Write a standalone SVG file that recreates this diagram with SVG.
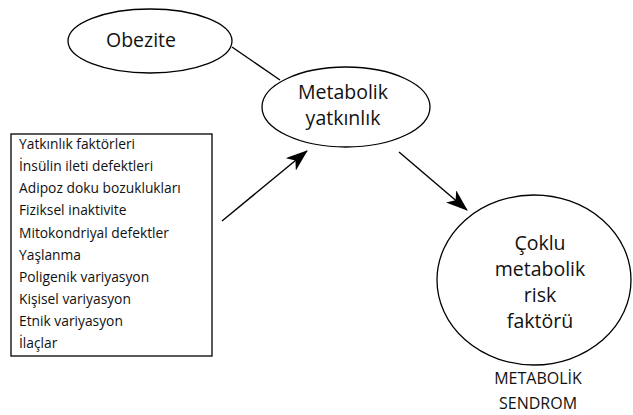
<svg xmlns="http://www.w3.org/2000/svg" width="633" height="415" viewBox="0 0 633 415">
  <style>
    .shape { fill: #fff; stroke: #000; stroke-width: 1.3; }
    .big { font-family: "Open Sans", "Liberation Sans", sans-serif; font-size: 19.5px; fill: #111; text-anchor: middle; }
    .item { font-family: "Open Sans", "Liberation Sans", sans-serif; font-size: 13.8px; fill: #111; }
    .cap { font-family: "Open Sans", "Liberation Sans", sans-serif; font-size: 16px; fill: #111; text-anchor: middle; }
    .conn { stroke: #000; stroke-width: 1.4; fill: none; }
  </style>
  <defs>
    <marker id="head" viewBox="0 0 22 16" refX="21" refY="8" markerWidth="22" markerHeight="16" markerUnits="userSpaceOnUse" orient="auto">
      <path d="M0,0 L22,8 L0,16 L6,8 Z" fill="#000"/>
    </marker>
  </defs>
  <rect width="633" height="415" fill="#fff"/>

  <g id="connectors">
    <line class="conn" x1="232" y1="47" x2="280" y2="80"/>
    <line class="conn" x1="222" y1="221" x2="307" y2="151" marker-end="url(#head)"/>
    <line class="conn" x1="399" y1="152" x2="467" y2="210" marker-end="url(#head)"/>
  </g>

  <g id="obezite">
    <ellipse class="shape" cx="150" cy="41" rx="82" ry="32"/>
    <text class="big" x="141" y="47">Obezite</text>
  </g>

  <g id="metabolik-yatkinlik">
    <ellipse class="shape" cx="346" cy="107" rx="84" ry="40"/>
    <text class="big" x="343" y="99">Metabolik</text>
    <text class="big" x="343" y="125">yatkınlık</text>
  </g>

  <g id="yatkinlik-faktorleri">
    <rect class="shape" x="11" y="134" width="201" height="222"/>
    <text class="item" x="19" y="149">Yatkınlık faktörleri</text>
    <text class="item" x="19" y="171">İnsülin ileti defektleri</text>
    <text class="item" x="19" y="193">Adipoz doku bozuklukları</text>
    <text class="item" x="19" y="215">Fiziksel inaktivite</text>
    <text class="item" x="19" y="238">Mitokondriyal defektler</text>
    <text class="item" x="19" y="260">Yaşlanma</text>
    <text class="item" x="19" y="282">Poligenik variyasyon</text>
    <text class="item" x="19" y="304">Kişisel variyasyon</text>
    <text class="item" x="19" y="326">Etnik variyasyon</text>
    <text class="item" x="19" y="348">İlaçlar</text>
  </g>

  <g id="coklu-risk">
    <ellipse class="shape" cx="534" cy="280" rx="97" ry="85"/>
    <text class="big" x="540" y="250">Çoklu</text>
    <text class="big" x="540" y="276">metabolik</text>
    <text class="big" x="540" y="302">risk</text>
    <text class="big" x="540" y="328">faktörü</text>
  </g>

  <g id="metabolik-sendrom">
    <text class="cap" x="538" y="384">METABOLİK</text>
    <text class="cap" x="538" y="409">SENDROM</text>
  </g>
</svg>
